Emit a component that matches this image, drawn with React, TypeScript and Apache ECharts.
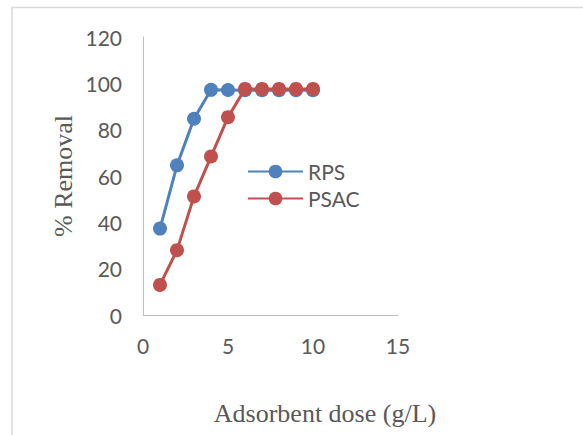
import React, { useEffect, useRef } from "react";
import * as echarts from "echarts";

const doses = [1, 2, 3, 4, 5, 6, 7, 8, 9, 10];
const rpsValues = [37.3, 64.6, 84.7, 97.2, 97.1, 97.0, 97.0, 97.0, 97.0, 97.0];
const psacValues = [13.0, 28.0, 51.2, 68.4, 85.4, 97.6, 97.6, 97.6, 97.6, 97.6];
const seriesNames = ["RPS", "PSAC"];
const xTitle = "Adsorbent dose (g/L)";
const yTitle = "% Removal";

export default function App() {
  const ref = useRef<HTMLDivElement>(null);
  useEffect(() => {
    if (!ref.current) return;
    const chart = echarts.init(ref.current, undefined, { renderer: "svg" });
    const labelFont = "Lato, 'Open Sans', sans-serif";
    const titleFont = "'Liberation Serif', 'Times New Roman', serif";
    chart.setOption({
      animation: false,
      backgroundColor: "#ffffff",
      graphic: [
        {
          type: "rect",
          shape: { x: 12, y: 7.5, width: 700, height: 600 },
          style: { fill: "none", stroke: "#d9d9d9", lineWidth: 1.5 },
          silent: true,
        },
        {
          type: "text",
          x: 325,
          y: 413,
          style: {
            text: xTitle,
            font: "26px " + titleFont,
            fill: "#595959",
            textAlign: "center",
            textVerticalAlign: "middle",
          },
          silent: true,
        },
      ],
      grid: { left: 143, top: 37, right: 185, bottom: 120 },
      legend: {
        orient: "vertical",
        left: 242,
        top: 156,
        itemWidth: 55,
        itemHeight: 17,
        itemGap: 6,
        textStyle: { fontFamily: labelFont, fontSize: 21, color: "#595959" },
        data: seriesNames,
      },
      xAxis: {
        type: "value",
        min: 0,
        max: 15,
        interval: 5,
        axisLine: { show: true, lineStyle: { color: "#bfbfbf", width: 1 } },
        axisTick: { show: false },
        splitLine: { show: false },
        axisLabel: { fontFamily: labelFont, fontSize: 21, color: "#595959", margin: 20 },
      },
      yAxis: {
        type: "value",
        min: 0,
        max: 120,
        interval: 20,
        name: yTitle,
        nameLocation: "middle",
        nameGap: 67,
        nameTextStyle: { fontFamily: titleFont, fontSize: 26, color: "#595959" },
        axisLine: { show: true, lineStyle: { color: "#bfbfbf", width: 1 } },
        axisTick: { show: false },
        splitLine: { show: false },
        axisLabel: { fontFamily: labelFont, fontSize: 21, color: "#595959", margin: 21 },
      },
      series: [
        {
          name: seriesNames[0],
          type: "line",
          data: doses.map((d, i) => [d, rpsValues[i]]),
          symbol: "circle",
          symbolSize: 14,
          lineStyle: { color: "#4F81BD", width: 3 },
          itemStyle: { color: "#4F81BD" },
          z: 2,
        },
        {
          name: seriesNames[1],
          type: "line",
          data: doses.map((d, i) => [d, psacValues[i]]),
          symbol: "circle",
          symbolSize: 14,
          lineStyle: { color: "#C0504D", width: 3 },
          itemStyle: { color: "#C0504D" },
          z: 3,
        },
      ],
    });
    return () => chart.dispose();
  }, []);
  return (
    <div
      ref={ref}
      style={{ position: "absolute", left: 0, top: 0, width: 583, height: 435 }}
    />
  );
}
